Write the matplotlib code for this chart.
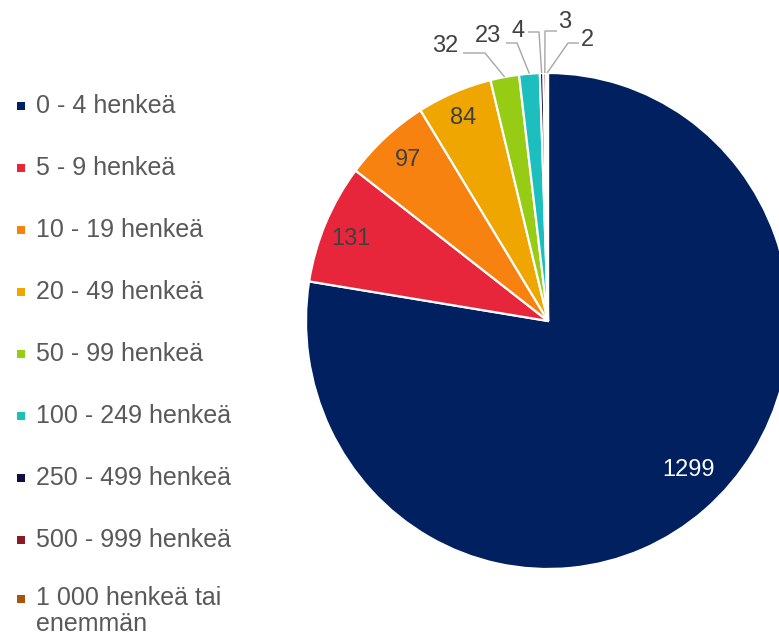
import matplotlib.pyplot as plt
import numpy as np

plt.rcParams['font.family'] = ['Liberation Sans', 'DejaVu Sans']

# ryhmat ja arvot
categories = ['0 - 4 henkeä', '5 - 9 henkeä', '10 - 19 henkeä', '20 - 49 henkeä',
              '50 - 99 henkeä', '100 - 249 henkeä', '250 - 499 henkeä',
              '500 - 999 henkeä', '1 000 henkeä tai\nenemmän']
values = [1299, 131, 97, 84, 32, 23, 4, 3, 2]
colors = ['#002060', '#E8263B', '#F7820F', '#EFA600', '#97CC14',
          '#1CBEBE', '#0E0E45', '#8C1A24', '#A5550E']

# pikselit -> data (keskipiste 548,321, säde 242 x 248 px)
W, H = 779, 643
CX, CY, RX, RY = 548, 321, 242, 248
def px(x, y):
    return (x - CX) / RX, (CY - y) / RY

fig = plt.figure(figsize=(W / 100, H / 100), dpi=100)
ax = fig.add_axes([0, 0, 1, 1])

wedges, _ = ax.pie(values, colors=colors, startangle=90, counterclock=False,
                   radius=1, center=(0, 0),
                   wedgeprops=dict(edgecolor='white', linewidth=1.6))
ax.set_aspect('auto')
x0, y0 = px(0, H)
x1, y1 = px(W, 0)
ax.set_xlim(x0, x1)
ax.set_ylim(y0, y1)
ax.axis('off')

lbl_font = 17
# sisäiset tunnisteet
inside = {0: (688, 470), 1: (351, 239), 2: (408, 160), 3: (463, 118)}
for i, (x, y) in inside.items():
    c = 'white' if i == 0 else '#404040'
    ax.text(*px(x, y), str(values[i]), color=c, fontsize=lbl_font,
            ha='center', va='center')

# ulkoiset tunnisteet viivoineen
outside = {
    4: ((445, 46), [(485, 53), (463, 53)]),
    5: ((488, 36), [(517, 43), (506, 43)]),
    6: ((518, 31), [(539, 32), (528, 32)]),
    7: ((565, 22), [(545, 31), (557, 31)]),
    8: ((587, 40), [(568, 43), (579, 43)]),
}
for i, ((tx, ty), pts) in outside.items():
    w = wedges[i]
    a = np.deg2rad((w.theta1 + w.theta2) / 2)
    xs = [np.cos(a)] + [px(p[0], p[1])[0] for p in pts]
    ys = [np.sin(a)] + [px(p[0], p[1])[1] for p in pts]
    ax.plot(xs, ys, color='#A6A6A6', lw=1.0, solid_capstyle='butt')
    ax.text(*px(tx, ty), str(values[i]), color='#404040', fontsize=lbl_font,
            ha='center', va='center')

# selite
for i, (cat, col) in enumerate(zip(categories, colors)):
    yc = 106 + 62 * i
    if '\n' in cat:
        mx, my = px(20.5, yc - 3)
        ax.text(*px(36, yc + 9), cat, color='#595959', fontsize=18,
                ha='left', va='center', linespacing=1.15)
    else:
        mx, my = px(20.5, yc)
        ax.text(*px(36, yc), cat, color='#595959', fontsize=18,
                ha='left', va='center')
    ax.scatter([mx], [my], marker='s', s=30, color=col, linewidths=0)

fig.savefig('out.png', dpi=100)
